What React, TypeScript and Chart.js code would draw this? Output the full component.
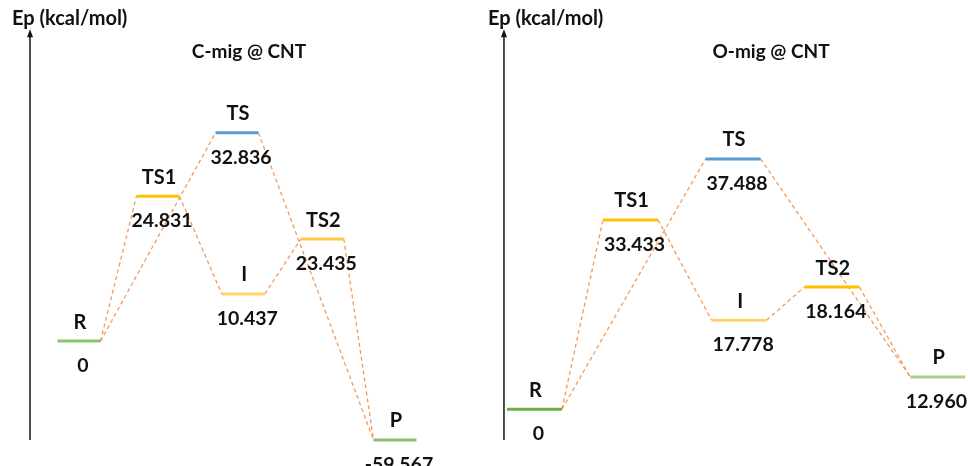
import React, { useEffect, useRef } from "react";
import { Chart, registerables } from "chart.js";

Chart.register(...registerables);

// ---- data ----
const stageNames = ["R", "TS1", "TS", "I", "TS2", "P"];

// C-mig @ CNT
const cTitle = "C-mig @ CNT";
const cEnergyLabels = ["0", "24.831", "32.836", "10.437", "23.435", "-59.567"];
// drawn (schematic) height of each level, 0-100 of panel height
const cDrawLevel = [26.8, 57.9, 71.5, 36.9, 48.7, 5.6];
// horizontal slot of each level
const cSlot = [0, 1, 2, 2.08, 3.08, 4];

// O-mig @ CNT
const oTitle = "O-mig @ CNT";
const oEnergyLabels = ["0", "33.433", "37.488", "17.778", "18.164", "12.960"];
const oDrawLevel = [12.2, 52.8, 65.9, 31.3, 38.4, 19.1];
const oSlot = [0, 0.953, 1.97, 2.03, 2.95, 4.0];

// connections: right/left end of one level to an end of another
const connections: [number, "L" | "R", number, "L" | "R"][] = [
  [0, "R", 1, "L"],
  [0, "R", 2, "L"],
  [1, "R", 3, "L"],
  [3, "R", 4, "L"],
  [4, "R", 5, "L"],
  [2, "R", 5, "L"],
];

const axisLabel = "Ep (kcal/mol)";

// ---- styles ----
const FONT = "Lato, 'Open Sans', sans-serif";
const W = 484;
const H = 466;

type PanelCfg = {
  title: string;
  labels: string[];
  levels: number[];
  slots: number[];
  xMin: number;
  xMax: number;
  halfWidth: number;
  colors: string[];
  axisSlot: number;
  axisLabelX: number;
  titleX: number;
};

const panels: PanelCfg[] = [
  {
    title: cTitle,
    labels: cEnergyLabels,
    levels: cDrawLevel,
    slots: cSlot,
    xMin: -1,
    xMax: 5.127,
    halfWidth: 0.272,
    colors: ["#8DC26C", "#FFC000", "#5B9BD5", "#FFD36E", "#FFC844", "#8DC26C"],
    axisSlot: -0.62,
    axisLabelX: 12,
    titleX: 249,
  },
  {
    title: oTitle,
    labels: oEnergyLabels,
    levels: oDrawLevel,
    slots: oSlot,
    xMin: -0.5,
    xMax: 4.3,
    halfWidth: 0.273,
    colors: ["#70AD47", "#FFC000", "#5B9BD5", "#FFD36E", "#FFC000", "#A9D18E"],
    axisSlot: -0.302,
    axisLabelX: 4,
    titleX: 287,
  },
];

function Panel({ cfg }: { cfg: PanelCfg }) {
  const ref = useRef<HTMLCanvasElement | null>(null);
  useEffect(() => {
    if (!ref.current) return;
    const end = (i: number, side: "L" | "R") =>
      cfg.slots[i] + (side === "L" ? -cfg.halfWidth : cfg.halfWidth);

    const levelSets = stageNames.map((n, i) => ({
      label: n,
      data: [
        { x: cfg.slots[i] - cfg.halfWidth, y: cfg.levels[i] },
        { x: cfg.slots[i] + cfg.halfWidth, y: cfg.levels[i] },
      ],
      borderColor: cfg.colors[i],
      borderWidth: 3,
      pointRadius: 0,
      order: 1,
    }));
    const connSets = connections.map(([a, sa, b, sb], k) => ({
      label: "c" + k,
      data: [
        { x: end(a, sa), y: cfg.levels[a] },
        { x: end(b, sb), y: cfg.levels[b] },
      ],
      borderColor: "#F59B5A",
      borderWidth: 1.3,
      borderDash: [4, 3],
      pointRadius: 0,
      order: 2,
    }));

    const textPlugin = {
      id: "texts",
      afterDatasetsDraw(chart: any) {
        const ctx = chart.ctx;
        const xs = chart.scales.x;
        const ys = chart.scales.y;
        ctx.save();
        // axis with arrow
        const ax = xs.getPixelForValue(cfg.axisSlot);
        const yb = ys.getPixelForValue(5.6);
        const yt = ys.getPixelForValue(93.3);
        ctx.strokeStyle = "#111";
        ctx.fillStyle = "#111";
        ctx.lineWidth = 1.5;
        ctx.beginPath();
        ctx.moveTo(ax, yb);
        ctx.lineTo(ax, yt + 4);
        ctx.stroke();
        ctx.beginPath();
        ctx.moveTo(ax, yt - 2);
        ctx.lineTo(ax - 3, yt + 6);
        ctx.lineTo(ax + 3, yt + 6);
        ctx.closePath();
        ctx.fill();
        // axis label
        ctx.font = `bold 20px ${FONT}`;
        ctx.textAlign = "left";
        ctx.textBaseline = "middle";
        ctx.fillText(axisLabel, cfg.axisLabelX, 19);
        // title
        ctx.textAlign = "center";
        ctx.font = `bold 19px ${FONT}`;
        ctx.fillText(cfg.title, cfg.titleX, 52);
        // level labels
        stageNames.forEach((n, i) => {
          const cx = xs.getPixelForValue(cfg.slots[i]);
          const cy = ys.getPixelForValue(cfg.levels[i]);
          ctx.font = `bold 20px ${FONT}`;
          ctx.fillText(n, cx + 1, cy - 19);
          ctx.font = `bold 19.5px ${FONT}`;
          const txt = cfg.labels[i];
          const w = ctx.measureText(txt).width;
          let tx = cx + 4;
          if (tx + w / 2 > W - 1) tx = W - 1 - w / 2;
          ctx.fillText(txt, tx, cy + 25);
        });
        ctx.restore();
      },
    };

    const chart = new Chart(ref.current, {
      type: "line",
      data: { datasets: [...connSets, ...levelSets] as any },
      options: {
        animation: false,
        responsive: false,
        maintainAspectRatio: false,
        layout: { padding: 0 },
        plugins: { legend: { display: false }, tooltip: { enabled: false }, title: { display: false } },
        scales: {
          x: { type: "linear", min: cfg.xMin, max: cfg.xMax, display: false },
          y: { type: "linear", min: 0, max: 100, display: false },
        },
      },
      plugins: [textPlugin],
    });
    return () => chart.destroy();
  }, [cfg]);
  return <canvas ref={ref} width={W} height={H} style={{ display: "block", width: W, height: H }} />;
}

export default function App() {
  return (
    <div
      style={{
        position: "fixed",
        left: 0,
        top: 0,
        width: 968,
        height: 466,
        display: "flex",
        background: "#fff",
      }}
    >
      {panels.map((p, i) => (
        <Panel key={i} cfg={p} />
      ))}
    </div>
  );
}
